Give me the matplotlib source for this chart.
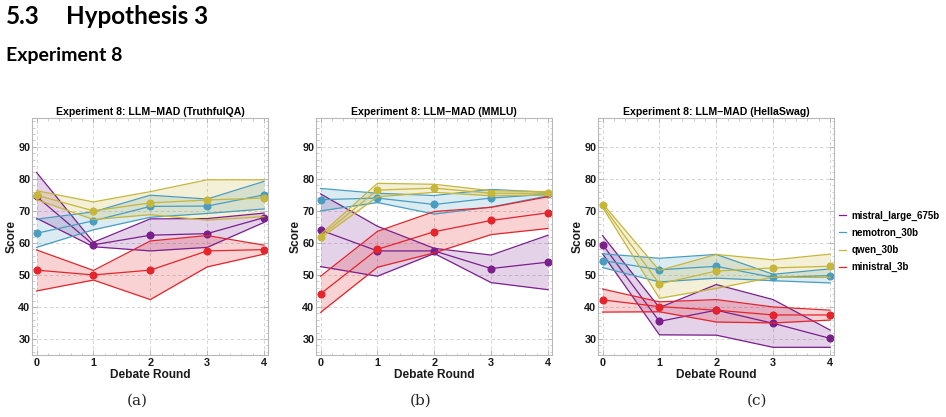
import matplotlib
matplotlib.use("Agg")
import matplotlib.pyplot as plt
from matplotlib.lines import Line2D
from matplotlib.ticker import MultipleLocator

# ---------------- data ----------------
rounds = [0, 1, 2, 3, 4]
models = ["mistral_large_675b", "nemotron_30b", "qwen_30b", "ministral_3b"]
datasets = ["TruthfulQA", "MMLU", "HellaSwag"]
captions = ["(a)", "(b)", "(c)"]

# TruthfulQA
tqa_mistral = [74.5, 59.4, 62.4, 62.9, 67.9]
tqa_mistral_lo = [67.7, 58.8, 57.5, 58.6, 66.4]
tqa_mistral_hi = [82.0, 60.2, 67.5, 67.6, 69.3]
tqa_nemotron = [63.0, 66.9, 71.4, 71.5, 75.0]
tqa_nemotron_lo = [58.6, 64.1, 68.0, 69.2, 70.6]
tqa_nemotron_hi = [67.4, 69.7, 74.9, 73.7, 79.2]
tqa_qwen = [74.9, 70.0, 72.5, 73.4, 74.0]
tqa_qwen_lo = [73.5, 67.3, 68.8, 67.1, 68.2]
tqa_qwen_hi = [76.3, 72.8, 76.0, 79.7, 79.7]
tqa_ministral = [51.5, 50.0, 51.5, 57.5, 57.9]
tqa_ministral_lo = [45.0, 48.4, 42.3, 52.5, 56.5]
tqa_ministral_hi = [57.8, 51.4, 60.6, 62.3, 59.3]

# MMLU
mmlu_mistral = [64.0, 57.5, 57.5, 52.0, 54.0]
mmlu_mistral_lo = [52.6, 49.6, 56.7, 47.6, 45.4]
mmlu_mistral_hi = [75.3, 65.2, 58.3, 56.2, 62.4]
mmlu_nemotron = [73.5, 74.0, 72.0, 74.0, 75.2]
mmlu_nemotron_lo = [70.0, 72.6, 69.0, 71.2, 74.7]
mmlu_nemotron_hi = [77.0, 75.5, 74.8, 76.7, 75.8]
mmlu_qwen = [62.0, 76.5, 77.1, 75.5, 75.5]
mmlu_qwen_lo = [61.5, 74.4, 75.8, 74.7, 75.0]
mmlu_qwen_hi = [62.6, 78.6, 78.3, 76.3, 76.0]
mmlu_ministral = [44.1, 58.0, 63.5, 67.0, 69.4]
mmlu_ministral_lo = [38.3, 52.4, 56.9, 62.6, 64.5]
mmlu_ministral_hi = [49.6, 63.6, 69.8, 71.1, 74.4]

# HellaSwag
hs_mistral = [59.5, 35.5, 39.0, 34.9, 30.2]
hs_mistral_lo = [56.6, 31.3, 31.2, 27.4, 27.4]
hs_mistral_hi = [62.3, 39.8, 47.0, 42.3, 32.8]
hs_nemotron = [54.5, 51.6, 52.7, 49.2, 49.8]
hs_nemotron_lo = [52.3, 47.8, 49.0, 48.2, 47.5]
hs_nemotron_hi = [56.6, 55.2, 56.4, 50.2, 51.9]
hs_qwen = [71.7, 47.2, 51.2, 52.2, 52.7]
hs_qwen_lo = [71.1, 42.7, 45.8, 49.3, 49.2]
hs_qwen_hi = [72.3, 51.4, 56.4, 54.7, 56.5]
hs_ministral = [42.2, 40.1, 39.0, 37.5, 37.5]
hs_ministral_lo = [38.4, 38.5, 35.3, 35.0, 35.9]
hs_ministral_hi = [45.6, 41.6, 42.3, 40.0, 39.0]

panels = [
    [(tqa_mistral, tqa_mistral_lo, tqa_mistral_hi),
     (tqa_nemotron, tqa_nemotron_lo, tqa_nemotron_hi),
     (tqa_qwen, tqa_qwen_lo, tqa_qwen_hi),
     (tqa_ministral, tqa_ministral_lo, tqa_ministral_hi)],
    [(mmlu_mistral, mmlu_mistral_lo, mmlu_mistral_hi),
     (mmlu_nemotron, mmlu_nemotron_lo, mmlu_nemotron_hi),
     (mmlu_qwen, mmlu_qwen_lo, mmlu_qwen_hi),
     (mmlu_ministral, mmlu_ministral_lo, mmlu_ministral_hi)],
    [(hs_mistral, hs_mistral_lo, hs_mistral_hi),
     (hs_nemotron, hs_nemotron_lo, hs_nemotron_hi),
     (hs_qwen, hs_qwen_lo, hs_qwen_hi),
     (hs_ministral, hs_ministral_lo, hs_ministral_hi)],
]

colors = ["#7a1f8c", "#4a9dc0", "#c6b63a", "#e5242b"]

# ---------------- figure ----------------
W, H = 946, 417
fig = plt.figure(figsize=(W / 100, H / 100), dpi=100)
font = "Liberation Sans"

lefts = [32, 316, 598]
cap_x = [137, 421, 757]
ax_w, ax_top, ax_bot = 236, 118, 355

for i, (name, series) in enumerate(zip(datasets, panels)):
    ax = fig.add_axes([lefts[i] / W, 1 - ax_bot / H, ax_w / W, (ax_bot - ax_top) / H])
    for (mean, lo, hi), c in zip(series, colors):
        ax.fill_between(rounds, lo, hi, color=c, alpha=0.2, lw=0)
        ax.plot(rounds, lo, color=c, lw=0.9)
        ax.plot(rounds, hi, color=c, lw=0.9)
        ax.plot(rounds, mean, color=c, lw=0.9, marker="o", ms=4.8)
    ax.set_xlim(-0.08, 4.07)
    ax.set_ylim(25, 99)
    ax.set_xticks(rounds)
    ax.set_yticks([30, 40, 50, 60, 70, 80, 90])
    ax.xaxis.set_minor_locator(MultipleLocator(0.2))
    ax.yaxis.set_minor_locator(MultipleLocator(2))
    ax.grid(True, which="major", color="#cfcfcf", ls=(0, (4, 3)), lw=0.6)
    ax.set_axisbelow(True)
    for s in ax.spines.values():
        s.set_color("#b8b8b8")
        s.set_linewidth(0.8)
    ax.tick_params(which="both", direction="in", top=True, right=True,
                   color="#b8b8b8", labelsize=7.8)
    ax.tick_params(axis="y", pad=1.2)
    ax.tick_params(axis="x", pad=2)
    ax.tick_params(which="major", length=3.5, width=0.7)
    ax.tick_params(which="minor", length=1.8, width=0.5)
    for lab in ax.get_xticklabels() + ax.get_yticklabels():
        lab.set_fontweight("bold")
        lab.set_fontfamily(font)
        lab.set_color("#1a1a1a")
    ax.set_title(f"Experiment 8: LLM\u2013MAD ({name})", fontsize=7.6,
                 fontweight="bold", family=font, pad=2.0)
    ax.set_xlabel("Debate Round", fontsize=8.6, fontweight="bold", family=font,
                  labelpad=1, color="#1a1a1a")
    ax.set_ylabel("Score", fontsize=8.6, fontweight="bold", family=font,
                  labelpad=0.5, color="#1a1a1a")
    fig.text(cap_x[i] / W, 1 - 401 / H, captions[i], ha="center",
             va="center", fontsize=11, family="DejaVu Serif", color="#222222")

handles = [Line2D([0], [0], color=c, lw=0.9) for c in colors]
fig.legend(handles, models, loc="center left", bbox_to_anchor=(839 / W, 1 - 241.5 / H),
           frameon=False, handlelength=0.75, handletextpad=0.55, labelspacing=0.72,
           borderpad=0, borderaxespad=0,
           prop={"family": font, "weight": "bold", "size": 7.0})

# headings
fig.text(6 / W, 1 - 16 / H, "5.3", fontsize=17.5, fontweight="bold", family="Lato",
         va="center", ha="left")
fig.text(66 / W, 1 - 16 / H, "Hypothesis 3", fontsize=17.5, fontweight="bold",
         family="Lato", va="center", ha="left")
fig.text(6 / W, 1 - 56 / H, "Experiment 8", fontsize=14, fontweight="bold",
         family="Lato", va="center", ha="left")

fig.savefig("out.png", dpi=100)
